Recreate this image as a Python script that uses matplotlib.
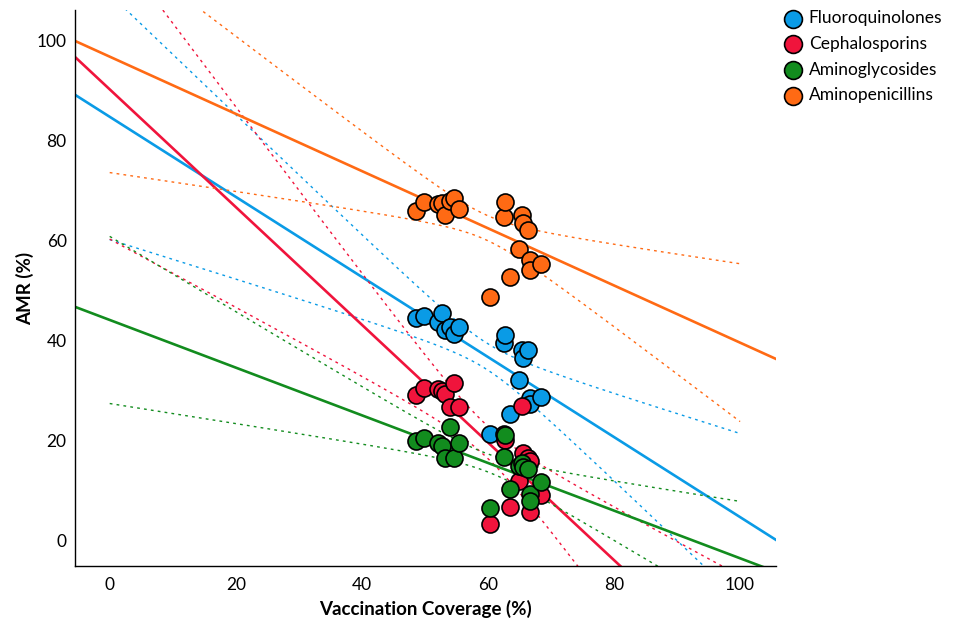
import numpy as np
import matplotlib.pyplot as plt

plt.rcParams['font.family'] = ['Lato', 'DejaVu Sans']

# vaccination coverage (%), shared by all antibiotic classes
coverage = [48.6, 49.9, 52.0, 52.7, 53.2, 54.0, 54.6, 55.4,
            60.3, 62.5, 62.7, 63.5, 64.9, 65.4, 65.6, 66.4, 66.7, 66.7, 68.4]

classes = ['Fluoroquinolones', 'Cephalosporins', 'Aminoglycosides', 'Aminopenicillins']
colors = ['#0a9be6', '#f0143c', '#128c1e', '#ff6a14']

# AMR (%) per class, same order as coverage
fluoro = [44.4, 44.8, 43.7, 45.4, 42.1, 42.7, 41.3, 42.7,
          21.2, 39.5, 41.0, 25.3, 32.1, 38.0, 36.4, 38.0, 28.4, 27.3, 28.7]
cepha = [29.1, 30.5, 30.2, 29.9, 29.2, 26.7, 31.4, 26.6,
         3.2, 21.2, 20.0, 6.6, 11.9, 26.8, 17.5, 16.5, 5.7, 15.8, 9.0]
amino_g = [19.9, 20.5, 19.4, 18.8, 16.4, 22.6, 16.4, 19.4,
           6.4, 16.7, 21.0, 10.2, 14.8, 15.4, 14.6, 14.2, 9.2, 7.9, 11.7]
amino_p = [65.9, 67.7, 67.4, 67.5, 65.1, 68.0, 68.6, 66.3,
           48.6, 64.8, 67.7, 52.8, 58.4, 65.1, 63.6, 62.1, 56.1, 54.1, 55.3]
amr = [fluoro, cepha, amino_g, amino_p]

# regression fits and 95% CI half-width of the slope
intercept = [84.8, 90.3, 44.1, 96.85]
slope = [-0.802, -1.179, -0.4775, -0.573]
slope_ci = [0.41, 0.50, 0.279, 0.387]

x = np.array(coverage)
xm = x.mean()
sxx_n = ((x - xm) ** 2).mean()

fig = plt.figure(figsize=(9.57, 6.24), dpi=100)
ax = fig.add_axes([0.0784, 0.0929, 0.7325, 0.8911])
xlim = (-5.5, 105.7)
ax.set_xlim(xlim)
ax.set_ylim(-5.2, 106.2)

xx = np.linspace(xlim[0], xlim[1], 200)
xc = np.linspace(0, 100, 300)
for i in range(4):
    ax.plot(xx, intercept[i] + slope[i] * xx, color=colors[i], lw=1.9, zorder=2)
    fit = intercept[i] + slope[i] * xc
    h = slope_ci[i] * np.sqrt(sxx_n + (xc - xm) ** 2)
    for band in (fit + h, fit - h):
        ax.plot(xc, band, color=colors[i], lw=1.0, ls=(0, (2, 3)), zorder=2)

for i in range(4):
    ax.scatter(coverage, amr[i], s=150, color=colors[i], edgecolor='black',
               linewidth=1.2, zorder=3, label=classes[i])

for s in ['top', 'right']:
    ax.spines[s].set_visible(False)
ax.spines['left'].set_linewidth(1.0)
ax.spines['bottom'].set_linewidth(1.0)
ax.set_xticks([0, 20, 40, 60, 80, 100])
ax.set_yticks([0, 20, 40, 60, 80, 100])
ax.tick_params(length=0, labelsize=12.5, pad=6)
ax.tick_params(axis='x', pad=8)
ax.set_xlabel('Vaccination Coverage (%)', fontsize=13.5, fontweight='bold', labelpad=5)
ax.set_ylabel('AMR (%)', fontsize=13.5, fontweight='bold', labelpad=2)

ax.legend(loc='upper left', bbox_to_anchor=(0.807, 1.0), bbox_transform=fig.transFigure,
          frameon=False, fontsize=12.5, handletextpad=0.3, labelspacing=0.55,
          borderaxespad=0.2, handlelength=1.2, markerscale=1.05)

plt.savefig('out.png', dpi=100)
